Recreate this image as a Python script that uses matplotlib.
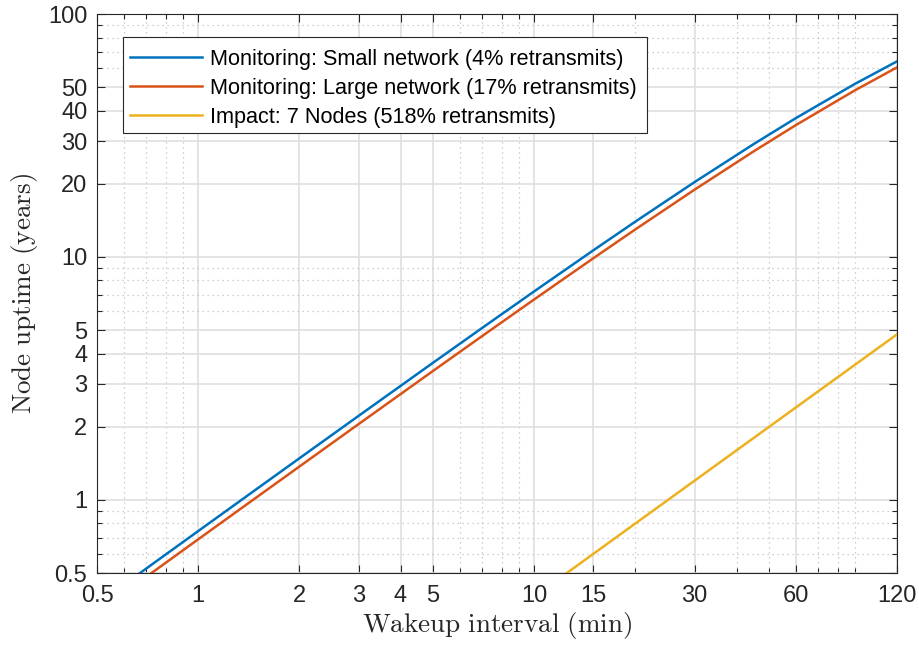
import matplotlib
matplotlib.use("Agg")
import matplotlib.pyplot as plt
from matplotlib.patches import Rectangle
from matplotlib.ticker import FixedLocator, FixedFormatter, LogLocator, NullFormatter

# Wakeup interval (min) and resulting node uptime (years)
x_small = [0.6, 0.7, 1, 1.5, 2, 3, 5, 7, 10, 15, 20, 30, 45, 60, 90, 120]
y_small = [0.4469, 0.5211, 0.7439, 1.1138, 1.4826, 2.2165, 3.6697, 5.104, 7.220,
           10.657, 13.986, 20.339, 29.17, 37.27, 51.58, 63.83]

x_large = [0.6, 0.7, 0.75, 1, 1.5, 2, 3, 5, 7, 10, 15, 20, 30, 45, 60, 90, 120]
y_large = [0.413, 0.482, 0.516, 0.688, 1.030, 1.371, 2.050, 3.396, 4.725, 6.689,
           9.885, 12.99, 18.93, 27.23, 34.88, 48.52, 60.30]

x_impact = [12, 15, 20, 30, 60, 120]
y_impact = [0.48, 0.6, 0.8, 1.2, 2.4, 4.8]

labels = ["Monitoring: Small network (4% retransmits)",
          "Monitoring: Large network (17% retransmits)",
          "Impact: 7 Nodes (518% retransmits)"]
colors = ["#0072BD", "#D95319", "#EDB120"]

xticks = [0.5, 1, 2, 3, 4, 5, 10, 15, 30, 60, 120]
xticklabels = ["0.5", "1", "2", "3", "4", "5", "10", "15", "30", "60", "120"]
yticks = [0.5, 1, 2, 3, 4, 5, 10, 20, 30, 40, 50, 100]
yticklabels = ["0.5", "1", "2", "3", "4", "5", "10", "20", "30", "40", "50", "100"]

plt.rcParams["font.family"] = ["Liberation Sans", "DejaVu Sans"]
plt.rcParams["mathtext.fontset"] = "cm"

fig = plt.figure(figsize=(9.19, 6.48), dpi=100)
ax = fig.add_axes([97 / 919, 1 - 573 / 648, 800 / 919, (573 - 14) / 648])

ax.set_xscale("log")
ax.set_yscale("log")

for xs, ys, c, lab in zip([x_small, x_large, x_impact],
                          [y_small, y_large, y_impact], colors, labels):
    ax.plot(xs, ys, color=c, lw=1.8, label=lab, zorder=3)

ax.set_xlim(0.5, 120)
ax.set_ylim(0.5, 100)

tc = "#262626"
ax.xaxis.set_major_locator(FixedLocator(xticks))
ax.xaxis.set_major_formatter(FixedFormatter(xticklabels))
ax.yaxis.set_major_locator(FixedLocator(yticks))
ax.yaxis.set_major_formatter(FixedFormatter(yticklabels))
ax.xaxis.set_minor_locator(LogLocator(base=10, subs=range(2, 10), numticks=20))
ax.yaxis.set_minor_locator(LogLocator(base=10, subs=range(2, 10), numticks=20))
ax.xaxis.set_minor_formatter(NullFormatter())
ax.yaxis.set_minor_formatter(NullFormatter())

ax.tick_params(which="both", direction="in", top=True, right=True,
               color=tc, labelcolor=tc, labelsize=17, width=0.8)
ax.tick_params(which="major", length=6)
ax.tick_params(which="minor", length=3.5)
ax.tick_params(axis="x", pad=9)
ax.tick_params(axis="y", pad=7)

for s in ax.spines.values():
    s.set_color(tc)
    s.set_linewidth(0.8)

ax.grid(which="major", color="#dfdfdf", lw=1.2, ls="-", zorder=0)
ax.grid(which="minor", color="#c0c0c0", lw=0.9, ls=(0, (1, 3)), zorder=0)
ax.set_axisbelow(True)

ax.set_xlabel(r"$\mathrm{Wakeup\ interval\ (min)}$", fontsize=19.5, color=tc, labelpad=2)
ax.set_ylabel(r"$\mathrm{Node\ uptime\ (years)}$", fontsize=19.5, color=tc, labelpad=6)

# Legend box drawn separately so its padding can be set on each side
box = Rectangle((0.0321, 0.7877), 0.6550, 0.1717, transform=ax.transAxes,
                facecolor="white", edgecolor=tc, lw=0.8, zorder=4)
ax.add_patch(box)
leg = ax.legend(loc="upper left", bbox_to_anchor=(0.0325, 0.9499), fontsize=15.6,
                frameon=False, handlelength=3.35, handletextpad=0.38, borderpad=0.3,
                labelspacing=0.372, borderaxespad=0)
leg.set_zorder(5)

fig.savefig("out.png", dpi=100)
